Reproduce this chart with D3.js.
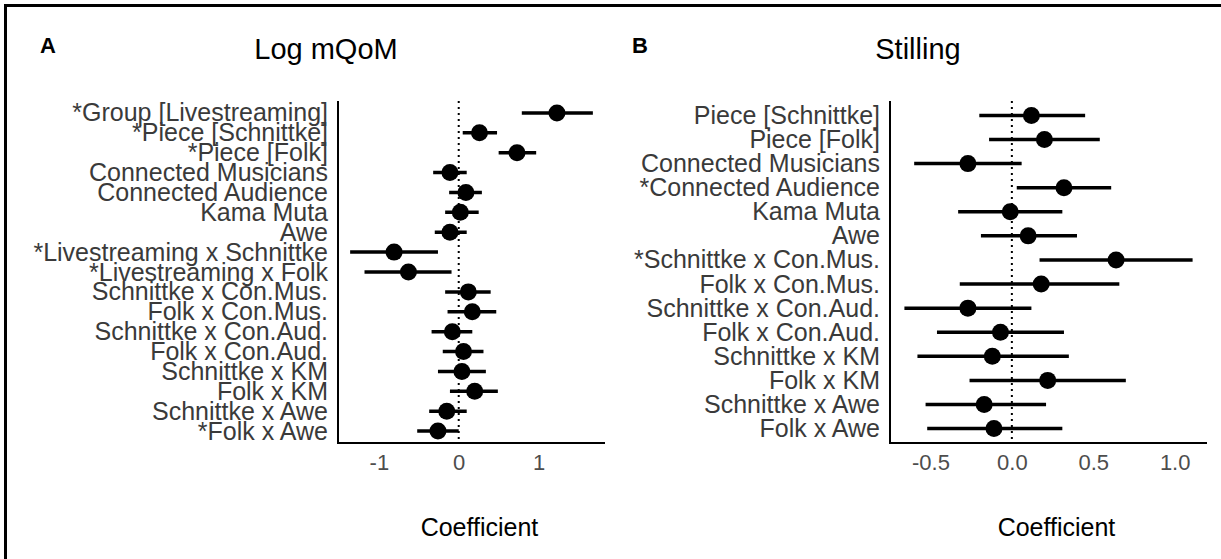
<!DOCTYPE html>
<html>
<head>
<meta charset="utf-8">
<script src="https://cdnjs.cloudflare.com/ajax/libs/d3/7.8.5/d3.min.js"></script>
<style>
  body { margin: 0; background: #fff; }
  text { font-family: "Liberation Sans", Arial, sans-serif; }
</style>
</head>
<body>
<script>
var w = 1221,
    h = 559;

// panel A: Log mQoM
var termsA = ["*Group [Livestreaming]", "*Piece [Schnittke]", "*Piece [Folk]", "Connected Musicians",
    "Connected Audience", "Kama Muta", "Awe", "*Livestreaming x Schnittke", "*Livestreaming x Folk",
    "Schnittke x Con.Mus.", "Folk x Con.Mus.", "Schnittke x Con.Aud.", "Folk x Con.Aud.",
    "Schnittke x KM", "Folk x KM", "Schnittke x Awe", "*Folk x Awe"];
var estA = [1.23, 0.26, 0.73, -0.11, 0.09, 0.02, -0.11, -0.81, -0.63, 0.12, 0.17, -0.08, 0.06, 0.04, 0.20, -0.15, -0.26];
var loA = [0.79, 0.05, 0.50, -0.32, -0.12, -0.17, -0.30, -1.36, -1.18, -0.17, -0.14, -0.34, -0.20, -0.26, -0.11, -0.37, -0.52];
var hiA = [1.68, 0.48, 0.97, 0.10, 0.29, 0.25, 0.10, -0.26, -0.09, 0.40, 0.47, 0.17, 0.31, 0.34, 0.49, 0.10, 0.00];
var ticksA = [-1, 0, 1];

// panel B: Stilling
var termsB = ["Piece [Schnittke]", "Piece [Folk]", "Connected Musicians", "*Connected Audience",
    "Kama Muta", "Awe", "*Schnittke x Con.Mus.", "Folk x Con.Mus.", "Schnittke x Con.Aud.",
    "Folk x Con.Aud.", "Schnittke x KM", "Folk x KM", "Schnittke x Awe", "Folk x Awe"];
var estB = [0.12, 0.20, -0.27, 0.32, -0.01, 0.10, 0.64, 0.18, -0.27, -0.07, -0.12, 0.22, -0.17, -0.11];
var loB = [-0.20, -0.14, -0.60, 0.03, -0.33, -0.19, 0.17, -0.32, -0.66, -0.46, -0.58, -0.26, -0.53, -0.52];
var hiB = [0.45, 0.54, 0.06, 0.61, 0.31, 0.40, 1.11, 0.66, 0.12, 0.32, 0.35, 0.70, 0.21, 0.31];
var ticksB = [-0.5, 0.0, 0.5, 1.0];

// plain hyphen for negatives, like the original
var hyphen = d3.formatLocale({ decimal: ".", thousands: ",", grouping: [3], currency: ["", ""], minus: "-" });

var svg = d3.select("body").append("svg")
    .attr("width", w)
    .attr("height", h);

// frame (top and left only)
svg.append("line")
    .attr("x1", 5).attr("x2", w)
    .attr("y1", 5.5).attr("y2", 5.5)
    .attr("stroke", "#000").attr("stroke-width", 3);
svg.append("line")
    .attr("x1", 5.5).attr("x2", 5.5)
    .attr("y1", 4).attr("y2", h)
    .attr("stroke", "#000").attr("stroke-width", 3);

function draw_panel(opt) {
    var rows = opt.terms.map(function(t, i) {
        return { term: t, est: opt.est[i], lo: opt.lo[i], hi: opt.hi[i] };
    });

    var lo = d3.min(rows, function(d) { return d.lo; }),
        hi = d3.max(rows, function(d) { return d.hi; }),
        pad = (hi - lo) * 0.05;

    var x = d3.scaleLinear()
        .domain([lo - pad, hi + pad])
        .range([opt.left, opt.right]);

    var y = d3.scalePoint()
        .domain(opt.terms)
        .range([opt.top, opt.bottom])
        .padding(0.6);

    var g = svg.append("g");

    // panel letter and title
    g.append("text")
        .text(opt.letter)
        .attr("x", opt.letterX)
        .attr("y", 53)
        .attr("font-size", 22)
        .attr("font-weight", "bold")
        .attr("fill", "#000");

    g.append("text")
        .text(opt.title)
        .attr("x", opt.titleX)
        .attr("y", 59)
        .attr("text-anchor", "middle")
        .attr("font-size", 29)
        .attr("fill", "#000");

    // zero reference
    g.append("line")
        .attr("x1", x(0)).attr("x2", x(0))
        .attr("y1", opt.top).attr("y2", opt.bottom)
        .attr("stroke", "#000")
        .attr("stroke-width", 2)
        .attr("stroke-dasharray", "2,4");

    // y axis labels
    var yAxis = g.append("g")
        .attr("class", "axis axis--y")
        .attr("transform", "translate(" + opt.left + ",0)")
        .call(d3.axisLeft(y).tickSize(0).tickPadding(10));
    yAxis.select(".domain").remove();
    yAxis.selectAll("text")
        .attr("font-size", 25)
        .attr("fill", "#3a3a3a")
        .attr("font-family", "Liberation Sans, Arial, sans-serif");

    // x axis
    var xAxis = g.append("g")
        .attr("class", "axis axis--x")
        .attr("transform", "translate(0," + opt.bottom + ")")
        .call(d3.axisBottom(x).tickValues(opt.ticks).tickSize(0).tickPadding(11)
            .tickFormat(opt.fmt));
    xAxis.select(".domain").remove();
    xAxis.selectAll("text")
        .attr("font-size", 22)
        .attr("fill", "#4d4d4d")
        .attr("font-family", "Liberation Sans, Arial, sans-serif");

    // axis lines
    g.append("line")
        .attr("x1", opt.left).attr("x2", opt.left)
        .attr("y1", opt.top).attr("y2", opt.bottom + 1)
        .attr("stroke", "#000").attr("stroke-width", 2);
    g.append("line")
        .attr("x1", opt.left - 1).attr("x2", opt.right)
        .attr("y1", opt.bottom).attr("y2", opt.bottom)
        .attr("stroke", "#000").attr("stroke-width", 2);

    // error bars and points
    var pts = g.selectAll(".coef")
        .data(rows)
        .enter().append("g")
        .attr("class", "coef");

    pts.append("line")
        .attr("x1", function(d) { return x(d.lo); })
        .attr("x2", function(d) { return x(d.hi); })
        .attr("y1", function(d) { return y(d.term); })
        .attr("y2", function(d) { return y(d.term); })
        .attr("stroke", "#000")
        .attr("stroke-width", 3.5);

    pts.append("circle")
        .attr("cx", function(d) { return x(d.est); })
        .attr("cy", function(d) { return y(d.term); })
        .attr("r", 8.5)
        .attr("fill", "#000");

    g.append("text")
        .text("Coefficient")
        .attr("x", (opt.left + opt.right) / 2 + 8)
        .attr("y", 536)
        .attr("text-anchor", "middle")
        .attr("font-size", 25)
        .attr("fill", "#000");
}

draw_panel({
    terms: termsA, est: estA, lo: loA, hi: hiA, ticks: ticksA,
    fmt: hyphen.format("d"),
    left: 338, right: 605, top: 101, bottom: 443,
    letter: "A", letterX: 40, title: "Log mQoM", titleX: 326
});

draw_panel({
    terms: termsB, est: estB, lo: loB, hi: hiB, ticks: ticksB,
    fmt: hyphen.format(".1f"),
    left: 890, right: 1207, top: 101, bottom: 443,
    letter: "B", letterX: 632, title: "Stilling", titleX: 918
});
</script>
</body>
</html>
